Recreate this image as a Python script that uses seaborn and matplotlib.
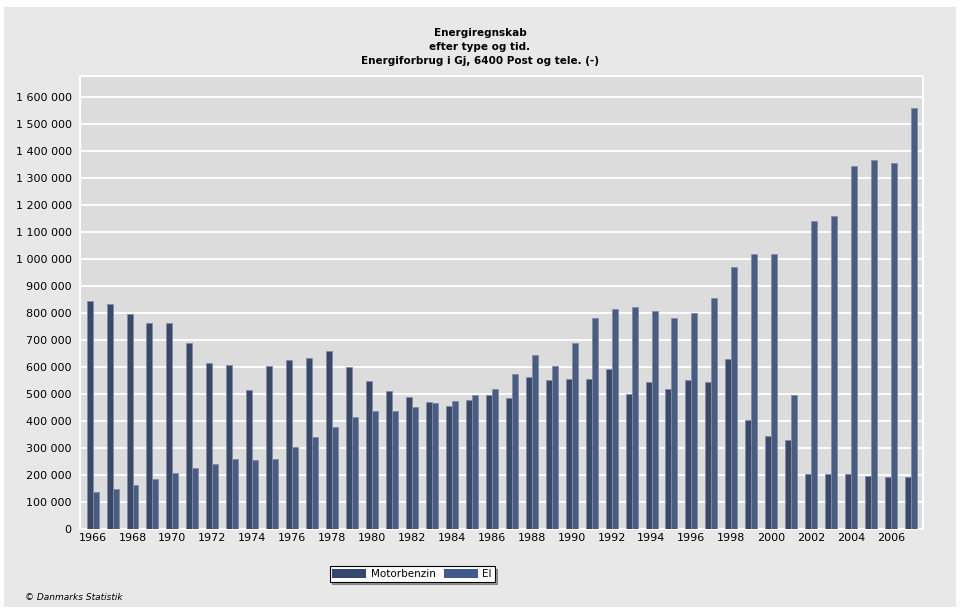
import matplotlib
matplotlib.use("Agg")
import matplotlib.pyplot as plt
from matplotlib.patches import Rectangle, Patch
from matplotlib.ticker import FuncFormatter, MultipleLocator
import seaborn as sns
import pandas as pd

years = list(range(1966, 2008))
motorbenzin = [845000, 833000, 796000, 763000, 763000, 689000, 615000, 607000, 515000, 604000,
               626000, 633000, 659000, 600000, 548000, 511000, 489000, 470000, 456000, 478000,
               496000, 485000, 563000, 552000, 556000, 556000, 593000, 500000, 544000, 519000,
               552000, 544000, 630000, 404000, 344000, 330000, 204000, 204000, 204000, 196000,
               193000, 193000]
el = [137000, 148000, 163000, 185000, 207000, 226000, 241000, 259000, 256000, 259000,
      304000, 341000, 378000, 415000, 437000, 437000, 452000, 467000, 474000, 496000,
      519000, 574000, 644000, 604000, 689000, 781000, 815000, 822000, 807000, 781000,
      800000, 856000, 970000, 1019000, 1019000, 496000, 1141000, 1159000, 1344000, 1367000,
      1356000, 1559000]
series_names = ["Motorbenzin", "El"]
colors = ["#34476E", "#42598A"]
title_lines = ["Energiregnskab", "efter type og tid.", "Energiforbrug i Gj, 6400 Post og tele. (-)"]
credit = "© Danmarks Statistik"

df = pd.DataFrame({
    "year": [str(y) for y in years] * 2,
    "value": motorbenzin + el,
    "type": [series_names[0]] * len(years) + [series_names[1]] * len(years),
})

fig = plt.figure(figsize=(9.6, 6.11), dpi=100)
fig.patch.set_facecolor("white")
bg = Rectangle((4 / 960, 1 - 607 / 611), 952 / 960, 600 / 611,
               transform=fig.transFigure, facecolor="#E8E8E8",
               edgecolor="none", zorder=-10)
fig.patches.append(bg)

ax = fig.add_axes([80 / 960, 1 - 529 / 611, (923 - 80) / 960, (529 - 76) / 611])
ax.set_zorder(1)
ax.set_facecolor("#DCDCDC")

sns.barplot(data=df, x="year", y="value", hue="type", order=[str(y) for y in years],
            hue_order=series_names, palette=colors, width=0.6, gap=0,
            errorbar=None, edgecolor="#7F8DAD", linewidth=0.6, ax=ax, legend=False,
            zorder=3)

ax.set_xlim(-0.63, len(years) - 1 + 0.6)
ax.set_ylim(0, 1678000)
ax.yaxis.set_major_locator(MultipleLocator(100000))
ax.yaxis.set_major_formatter(FuncFormatter(lambda v, p: f"{int(v):,}".replace(",", " ")))
ax.set_xticks(list(range(0, len(years), 2)))
ax.set_xticklabels([str(y) for y in years[::2]])
ax.grid(axis="y", color="white", linewidth=1.3, zorder=1)
ax.set_axisbelow(True)
ax.tick_params(axis="both", length=0, labelsize=8, colors="black")
ax.tick_params(axis="y", pad=6)
ax.tick_params(axis="x", pad=3)
for s in ax.spines.values():
    s.set_color("white")
    s.set_linewidth(1.5)
ax.set_xlabel("")
ax.set_ylabel("")

ys = [33, 47, 61]
for t, y in zip(title_lines, ys):
    fig.text(480 / 960, 1 - y / 611, t, ha="center", va="center",
             fontsize=7.5, fontweight="bold")

handles = [Patch(facecolor=c, edgecolor="none") for c in colors]
leg = fig.legend(handles, series_names, loc="center",
                 bbox_to_anchor=(412 / 960, 1 - 574 / 611), ncol=2, frameon=True,
                 fancybox=False, shadow=True, fontsize=7.5, handlelength=3.3,
                 handleheight=0.9, columnspacing=0.8, handletextpad=0.4,
                 borderpad=0.25, borderaxespad=0)
leg.get_frame().set_edgecolor("black")
leg.get_frame().set_linewidth(0.8)
leg.get_frame().set_facecolor("white")

fig.text(25 / 960, 1 - 598 / 611, credit, ha="left", va="center",
         fontsize=6.5, style="italic")

fig.savefig("out.png", dpi=100, facecolor=fig.get_facecolor())
